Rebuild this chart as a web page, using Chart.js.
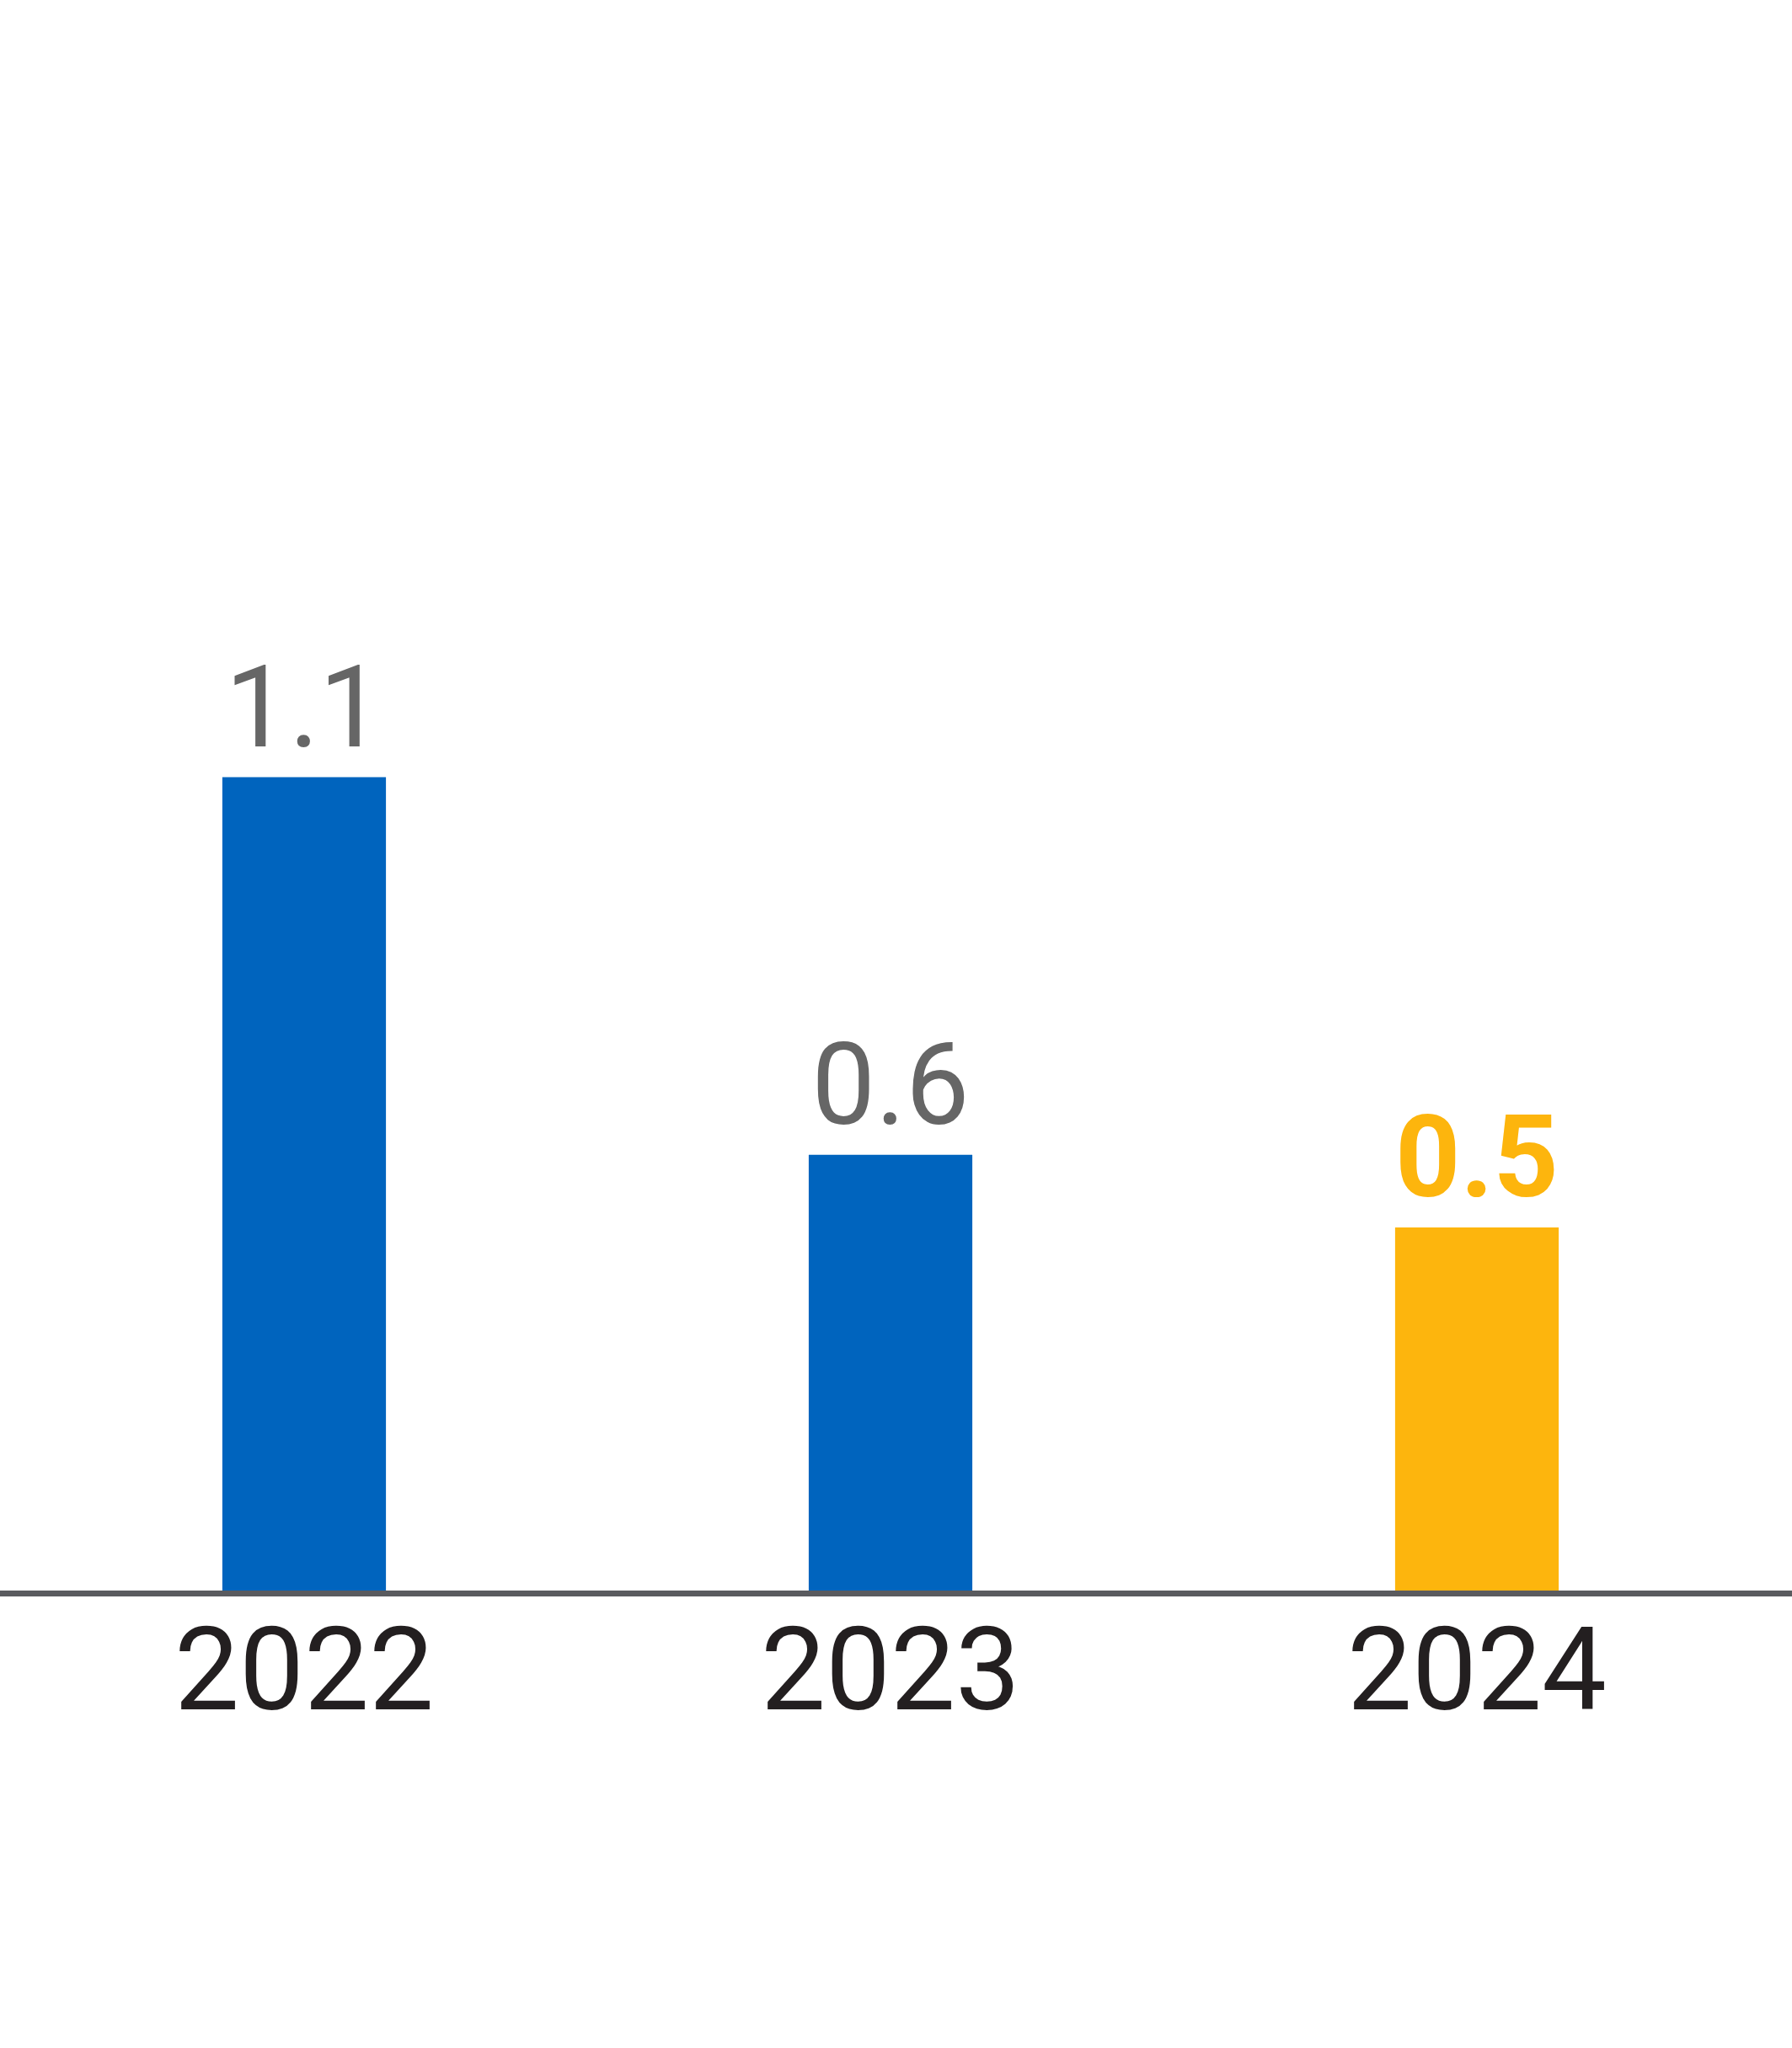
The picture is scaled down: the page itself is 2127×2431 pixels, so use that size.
<!DOCTYPE html>
<html>
<head>
<meta charset="utf-8">
<script src="https://cdn.jsdelivr.net/npm/chart.js@4"></script>
<style>
    body { margin: 0; background: #fff; }
    #wrap { width: 2127px; height: 2431px; position: relative; }
</style>
</head>
<body>
<div id="wrap"><canvas id="barChart"></canvas></div>
<script>
const years = ['2022', '2023', '2024'];
const values = [1.12, 0.60, 0.50];
const valueLabels = ['1.1', '0.6', '0.5'];
const barColors = ['#0064be', '#0064be', '#fdb50d'];
const labelColors = ['#666666', '#666666', '#fdb50d'];
const labelWeights = ['normal', 'normal', 'bold'];

// value text above each bar
const valueLabelPlugin = {
    id: 'valueLabels',
    afterDatasetsDraw(chart) {
        const ctx = chart.ctx;
        const meta = chart.getDatasetMeta(0);
        ctx.save();
        ctx.textAlign = 'center';
        ctx.textBaseline = 'alphabetic';
        meta.data.forEach((bar, i) => {
            ctx.font = `${labelWeights[i]} 135px Roboto, "Liberation Sans", sans-serif`;
            ctx.fillStyle = labelColors[i];
            ctx.fillText(valueLabels[i], bar.x, bar.y - 37);
        });
        ctx.restore();
    }
};

// baseline runs the full width of the picture
const baselinePlugin = {
    id: 'baseline',
    afterDatasetsDraw(chart) {
        const ctx = chart.ctx;
        const y0 = chart.scales.y.getPixelForValue(0);
        ctx.save();
        ctx.fillStyle = '#5a5b5f';
        ctx.fillRect(0, y0, chart.width, 7);
        ctx.restore();
    }
};

new Chart(document.getElementById('barChart').getContext('2d'), {
    type: 'bar',
    data: {
        labels: years,
        datasets: [{
            data: values,
            backgroundColor: barColors,
            borderWidth: 0,
            categoryPercentage: 1,
            barPercentage: 0.279
        }]
    },
    options: {
        responsive: true,
        maintainAspectRatio: false,
        animation: false,
        layout: { padding: { top: 164, bottom: 343, left: 13, right: 26 } },
        plugins: { legend: { display: false }, tooltip: { enabled: false } },
        scales: {
            y: { display: false, min: 0, max: 2 },
            x: {
                grid: { display: false },
                border: { display: false },
                ticks: {
                    color: '#231f20',
                    padding: 17,
                    font: { family: 'Roboto, "Liberation Sans", sans-serif', size: 137 }
                },
                afterFit(scale) { scale.height = 200; }
            }
        }
    },
    plugins: [valueLabelPlugin, baselinePlugin]
});
</script>
</body>
</html>
